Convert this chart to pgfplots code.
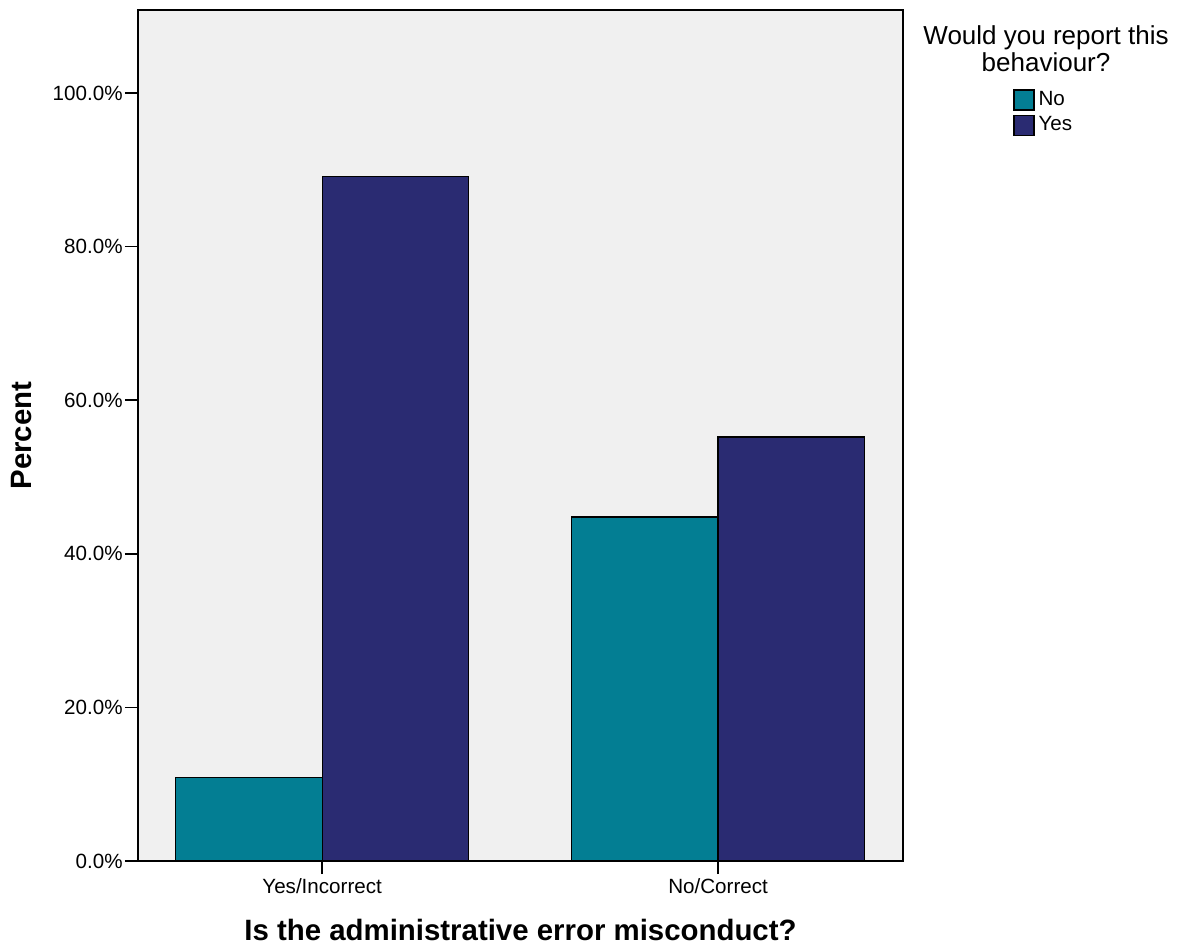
\documentclass[border=0pt]{standalone}
\usepackage{pgfplots}
\pgfplotsset{compat=1.18}
\usepackage{fontspec}
\setmainfont{Liberation Sans}
\definecolor{tealbar}{RGB}{3,126,147}
\definecolor{navybar}{RGB}{42,43,114}
\definecolor{bgc}{RGB}{240,240,240}
\pgfplotsset{ybar legend/.style={/pgfplots/legend image code/.code={\draw[##1,draw=black,line width=0.6pt] (0pt,-5pt) rectangle (10pt,5pt);}}}
\begin{document}
\begin{tikzpicture}
\begin{axis}[
 scale only axis, width=382.5pt, height=425.5pt,
 xmin=-0.465, xmax=1.467, ymin=0, ymax=110.8,
 axis background/.style={fill=bgc},
 axis line style={line width=0.8pt},
 ybar, bar width=0.37,
 xtick={0,1}, xticklabels={Yes/Incorrect, No/Correct},
 ytick={0,20,...,100},
 yticklabel={\pgfmathprintnumber[fixed,fixed zerofill,precision=1]{\tick}\%},
 /pgf/number format/assume math mode=true,
 tick label style={font=\fontsize{10.3}{12}\selectfont},
 yticklabel style={inner sep=1pt},
 xticklabel style={inner sep=2pt},
 tick align=outside, tick pos=left, major tick length=6.5pt,
 tick style={line width=0.8pt, black},
 xlabel={Is the administrative error misconduct?},
 ylabel={Percent},
 label style={font=\bfseries\fontsize{14.7}{16}\selectfont},
 xlabel style={at={(axis description cs:0.5,-0.081)}, anchor=center},
 ylabel style={at={(axis description cs:-0.1516,0.5)}, anchor=center, rotate=0},
 legend entries={No, Yes},
 legend style={at={(1.1438,0.9095)}, anchor=north west, draw=none, fill=none,
   font=\fontsize{10.3}{12.5}\selectfont, inner sep=0pt, row sep=0pt,
   /tikz/every even column/.append style={column sep=2pt}},
 legend cell align=left,
 clip=false,
]
\addplot[fill=tealbar, draw=black, line width=0.6pt, bar shift=-0.185] coordinates {(0,10.9) (1,44.8)};
\addplot[fill=navybar, draw=black, line width=0.6pt, bar shift=0.185] coordinates {(0,89.1) (1,55.2)};
\node[align=center, font=\fontsize{13}{13.5}\selectfont] at (rel axis cs:1.187,0.9548) {Would you report this\\behaviour?};
\end{axis}
\pgfresetboundingbox
\path[use as bounding box] ([xshift=-69pt,yshift=-41.5pt]current axis.south west) rectangle ([xshift=138.5pt,yshift=5pt]current axis.north east);
\end{tikzpicture}
\end{document}
